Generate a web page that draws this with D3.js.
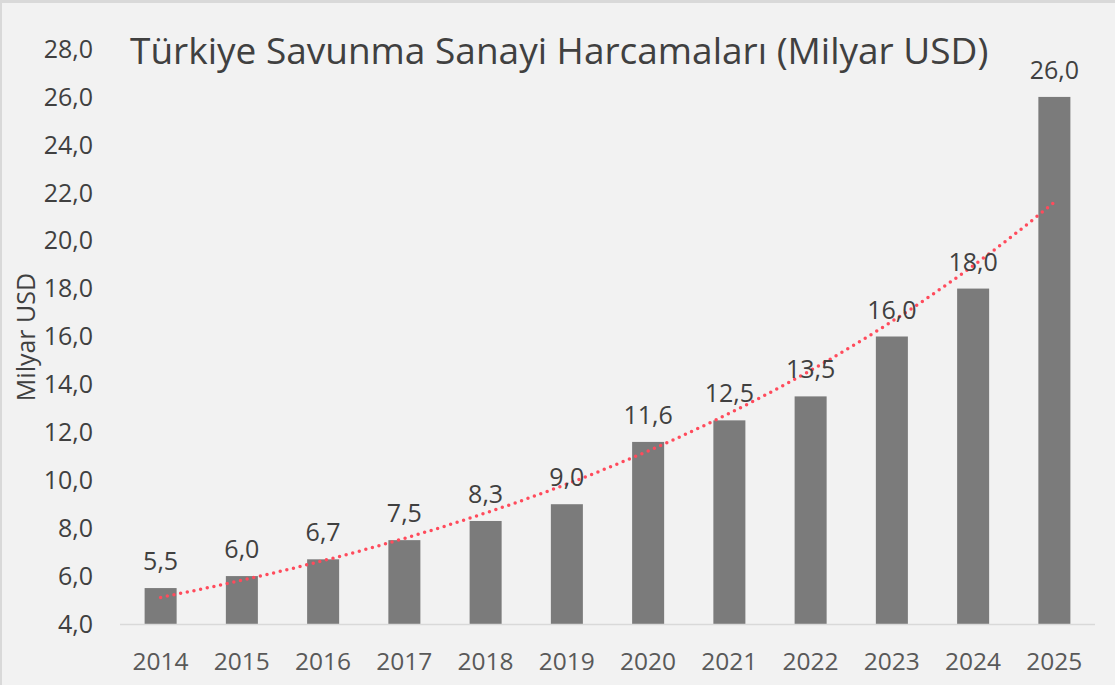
<!DOCTYPE html>
<html>
<head>
<meta charset="utf-8">
<script src="https://cdn.jsdelivr.net/npm/d3@7"></script>
<style>
  body { margin: 0; background: #d9d9d9; }
  svg { display: block; font-family: "Open Sans", sans-serif; }
</style>
</head>
<body>
<svg></svg>
<script>
var years = ["2014","2015","2016","2017","2018","2019","2020","2021","2022","2023","2024","2025"];
var spending = [5.5, 6.0, 6.7, 7.5, 8.3, 9.0, 11.6, 12.5, 13.5, 16.0, 18.0, 26.0];
var yTicks = [4,6,8,10,12,14,16,18,20,22,24,26,28];
var title = "Türkiye Savunma Sanayi Harcamaları (Milyar USD)";
var yTitle = "Milyar USD";

var width = 1115;
var height = 685;
var fmt = v => v.toFixed(1).replace('.', ',');

var svg = d3.select('svg')
    .attr('width', width)
    .attr('height', height);

svg.append('rect')
  .attr('x', 2).attr('y', 3)
  .attr('width', width - 2).attr('height', height - 3)
  .attr('fill', '#f2f2f2');

var x = d3.scaleBand()
  .domain(years)
  .range([120, 1095])
  .paddingInner(0.606)
  .paddingOuter(0.303);

var y = d3.scaleLinear()
  .domain([4, 28])
  .range([624, 49]);

// y tick labels
svg.append('g')
  .selectAll('text')
  .data(yTicks)
  .enter()
  .append('text')
    .attr('x', 93)
    .attr('y', d => y(d))
    .attr('dy', '0.35em')
    .attr('text-anchor', 'end')
    .attr('font-size', 25)
    .attr('fill', '#404040')
    .text(fmt);

// bars
svg.append('g')
  .selectAll('rect')
  .data(spending)
  .enter()
  .append('rect')
    .attr('x', (d,i) => x(years[i]))
    .attr('y', d => y(d))
    .attr('width', x.bandwidth())
    .attr('height', d => y(4) - y(d))
    .attr('fill', '#7b7b7b');

// baseline
svg.append('line')
  .attr('x1', 120).attr('x2', 1095)
  .attr('y1', y(4) + 0.5).attr('y2', y(4) + 0.5)
  .attr('stroke', '#d9d9d9')
  .attr('stroke-width', 1.5);

// x labels
svg.append('g')
  .selectAll('text')
  .data(years)
  .enter()
  .append('text')
    .attr('x', d => x(d) + x.bandwidth() / 2)
    .attr('y', 670)
    .attr('text-anchor', 'middle')
    .attr('font-size', 24.5)
    .attr('fill', '#595959')
    .text(d => d);

// exponential trendline fitted to the data
var n = spending.length;
var lx = d3.range(n);
var ly = spending.map(v => Math.log(v));
var mx = d3.mean(lx), my = d3.mean(ly);
var b = d3.sum(lx, (v,i) => (v - mx) * (ly[i] - my)) / d3.sum(lx, v => (v - mx) * (v - mx));
var a = my - b * mx;
var trend = d3.range(0, n - 1 + 0.001, 0.1).map(t => [t, Math.exp(a + b * t)]);
var tx = d3.scaleLinear().domain([0, n - 1])
  .range([x(years[0]) + x.bandwidth() / 2, x(years[n - 1]) + x.bandwidth() / 2]);

svg.append('path')
  .datum(trend)
  .attr('d', d3.line().x(d => tx(d[0])).y(d => y(d[1])).curve(d3.curveMonotoneX))
  .attr('fill', 'none')
  .attr('stroke', '#ff4b5c')
  .attr('stroke-width', 3.5)
  .attr('stroke-linecap', 'round')
  .attr('stroke-dasharray', '0 6.8');

// data labels
svg.append('g')
  .selectAll('text')
  .data(spending)
  .enter()
  .append('text')
    .attr('x', (d,i) => x(years[i]) + x.bandwidth() / 2)
    .attr('y', d => y(d) - 18)
    .attr('text-anchor', 'middle')
    .attr('font-size', 25)
    .attr('fill', '#404040')
    .text(fmt);

// title
svg.append('text')
  .attr('x', 130)
  .attr('y', 64)
  .attr('font-size', 37)
  .attr('fill', '#404040')
  .text(title);

svg.append('text')
  .attr('transform', 'translate(35, 337) rotate(-90)')
  .attr('text-anchor', 'middle')
  .attr('font-size', 25)
  .attr('fill', '#404040')
  .text(yTitle);
</script>
</body>
</html>
